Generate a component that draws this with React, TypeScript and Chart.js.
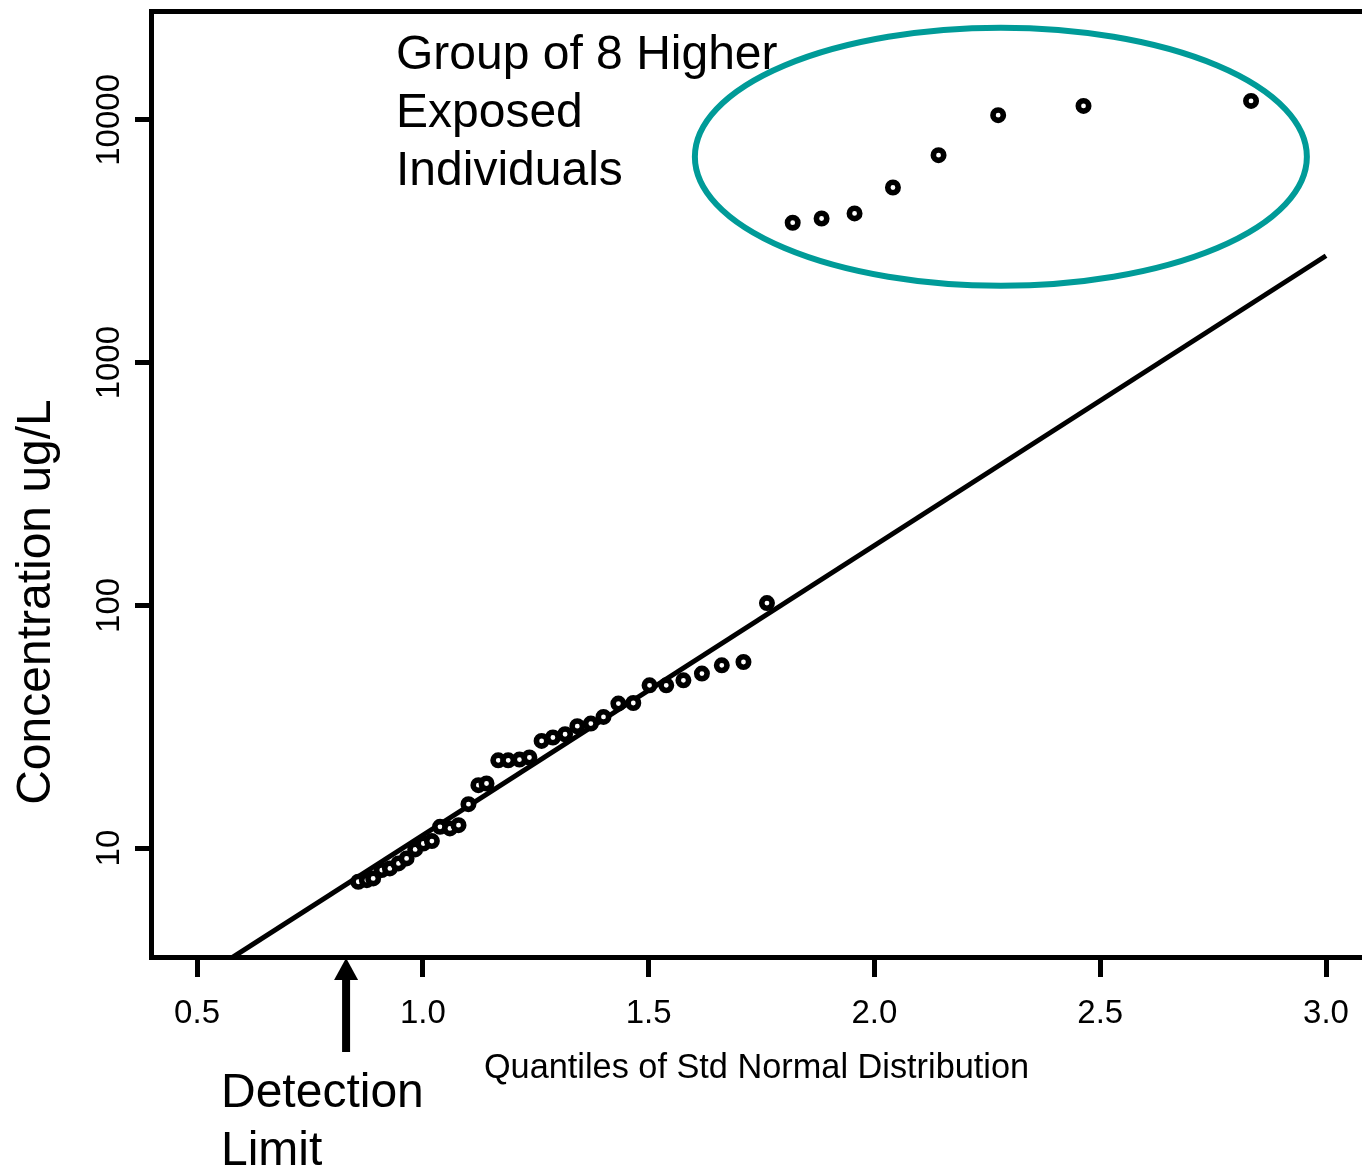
import React, { useEffect, useRef } from "react";
import { Chart, registerables } from "chart.js";

Chart.register(...registerables);

// Normal quantiles (x) of the detected samples
const quantiles = [
  0.857, 0.876, 0.89, 0.909, 0.927, 0.946, 0.964, 0.983, 1.001, 1.02,
  1.038, 1.06, 1.079, 1.101, 1.123, 1.141, 1.167, 1.189, 1.214, 1.236,
  1.263, 1.288, 1.315, 1.342, 1.372, 1.4, 1.433, 1.466, 1.502, 1.539,
  1.577, 1.618, 1.662, 1.71, 1.762,
  1.819, 1.883, 1.956, 2.041, 2.142, 2.274, 2.463, 2.834,
];

// Concentrations (ug/L)
const concentrations = [
  7.27, 7.38, 7.5, 8.12, 8.25, 8.65, 9.07, 9.88, 10.45, 10.69,
  12.24, 12.05, 12.43, 15.17, 18.17, 18.46, 23.0, 23.0, 23.17, 23.62,
  27.64, 28.55, 29.45, 31.78, 32.6, 34.7, 39.39, 39.61, 46.86, 46.86,
  49.13, 52.36, 56.64, 58.44, 102.2,
  3770, 3925, 4116, 5266, 7157, 10455, 11420, 11970,
];

// Fitted lognormal reference line
const fitQuantiles = [0.5, 3.0];
const fitConcentrations = [2.86, 2756];

const xTickValues = [0.5, 1.0, 1.5, 2.0, 2.5, 3.0];
const yTickValues = [10, 100, 1000, 10000];

const xTitle = "Quantiles of Std Normal Distribution";
const yTitle = "Concentration ug/L";
const groupLabel = ["Group of 8 Higher", "Exposed", "Individuals"];
const detectionLabel = ["Detection", "Limit"];
const detectionLimitQuantile = 0.83;
const groupCenterQuantile = 2.28;
const groupCenterConcentration = 7050;

const FONT = '"Liberation Sans", Arial, Helvetica, sans-serif';

const annotationPlugin = {
  id: "annotations",
  afterDraw(chart: any) {
    const ctx = chart.ctx as CanvasRenderingContext2D;
    const xs = chart.scales.x;
    const ys = chart.scales.y;
    ctx.save();

    // ellipse around the higher exposed group
    const cx = xs.getPixelForValue(groupCenterQuantile);
    const cy = ys.getPixelForValue(groupCenterConcentration);
    ctx.beginPath();
    ctx.ellipse(cx, cy, 306, 129, 0, 0, Math.PI * 2);
    ctx.strokeStyle = "#009b98";
    ctx.lineWidth = 6;
    ctx.stroke();

    // texts
    ctx.fillStyle = "#000";
    ctx.font = `48px ${FONT}`;
    ctx.textAlign = "left";
    ctx.textBaseline = "alphabetic";
    groupLabel.forEach((t, i) => ctx.fillText(t, 396, 69 + i * 58));
    detectionLabel.forEach((t, i) => ctx.fillText(t, 221, 1107 + i * 58));

    // detection limit arrow
    const ax = xs.getPixelForValue(detectionLimitQuantile);
    const tip = xs.top + 1;
    ctx.beginPath();
    ctx.moveTo(ax, tip);
    ctx.lineTo(ax - 12, tip + 22);
    ctx.lineTo(ax + 12, tip + 22);
    ctx.closePath();
    ctx.fill();
    ctx.fillRect(ax - 4, tip + 20, 8, 1052 - (tip + 20));

    // y axis title
    ctx.translate(50, 602);
    ctx.rotate(-Math.PI / 2);
    ctx.textAlign = "center";
    ctx.textBaseline = "alphabetic";
    ctx.fillText(yTitle, 0, 0);
    ctx.restore();
  },
};

export default function App() {
  const ref = useRef<HTMLCanvasElement>(null);

  useEffect(() => {
    Chart.defaults.font.family = FONT;
    const chart = new Chart(ref.current as HTMLCanvasElement, {
      type: "scatter",
      data: {
        datasets: [
          {
            type: "scatter",
            data: quantiles.map((q, i) => ({ x: q, y: concentrations[i] })),
            pointRadius: 5.2,
            pointHoverRadius: 5.2,
            pointBorderWidth: 5.6,
            pointBorderColor: "#000",
            pointBackgroundColor: "#fff",
            order: 1,
          } as any,
          {
            type: "line",
            data: fitQuantiles.map((q, i) => ({ x: q, y: fitConcentrations[i] })),
            borderColor: "#000",
            borderWidth: 5,
            pointRadius: 0,
            fill: false,
            tension: 0,
            order: 2,
          } as any,
        ],
      },
      options: {
        animation: false,
        responsive: false,
        events: [],
        layout: { padding: 0, autoPadding: false },
        plugins: { legend: { display: false }, tooltip: { enabled: false } },
        scales: {
          x: {
            type: "linear",
            position: "bottom",
            min: 0.398,
            max: 3.0797,
            afterBuildTicks: (s: any) => {
              s.ticks = xTickValues.map((v) => ({ value: v }));
            },
            afterFit: (s: any) => {
              s.height = 213;
              s.paddingLeft = 0;
              s.paddingRight = 0;
            },
            grid: { drawOnChartArea: false, drawTicks: true, tickLength: 20, lineWidth: 5, color: "#000" },
            border: { display: true, width: 5, color: "#000" },
            ticks: {
              color: "#000",
              font: { size: 33 },
              padding: 17,
              minRotation: 0,
              maxRotation: 0,
              autoSkip: false,
              callback: (v: any) => Number(v).toFixed(1),
            },
            title: {
              display: true,
              text: xTitle,
              color: "#000",
              font: { size: 34.3 },
              padding: { top: 0, bottom: 81 },
            },
          },
          x2: {
            type: "linear",
            position: "top",
            display: true,
            grid: { display: false, drawTicks: false },
            ticks: { display: false },
            border: { display: true, width: 5, color: "#000" },
            afterFit: (s: any) => {
              s.height = 11;
              s.paddingLeft = 0;
              s.paddingRight = 0;
            },
          },
          y: {
            type: "logarithmic",
            position: "left",
            min: 3.56,
            max: 28090,
            afterBuildTicks: (s: any) => {
              s.ticks = yTickValues.map((v) => ({ value: v }));
            },
            afterFit: (s: any) => {
              s.width = 151;
              s.paddingTop = 0;
              s.paddingBottom = 0;
            },
            grid: { drawOnChartArea: false, drawTicks: true, tickLength: 16, lineWidth: 5, color: "#000" },
            border: { display: true, width: 5, color: "#000" },
            ticks: {
              color: "#000",
              font: { size: 33 },
              padding: -21,
              minRotation: 90,
              maxRotation: 90,
              crossAlign: "center",
              autoSkip: false,
              callback: (v: any) => String(v),
            },
          },
        },
      } as any,
      plugins: [annotationPlugin],
    });
    return () => chart.destroy();
  }, []);

  return (
    <div style={{ position: "absolute", left: 0, top: 0, width: 1362, height: 1170, background: "#fff" }}>
      <canvas ref={ref} width={1362} height={1170} style={{ display: "block" }} />
    </div>
  );
}
